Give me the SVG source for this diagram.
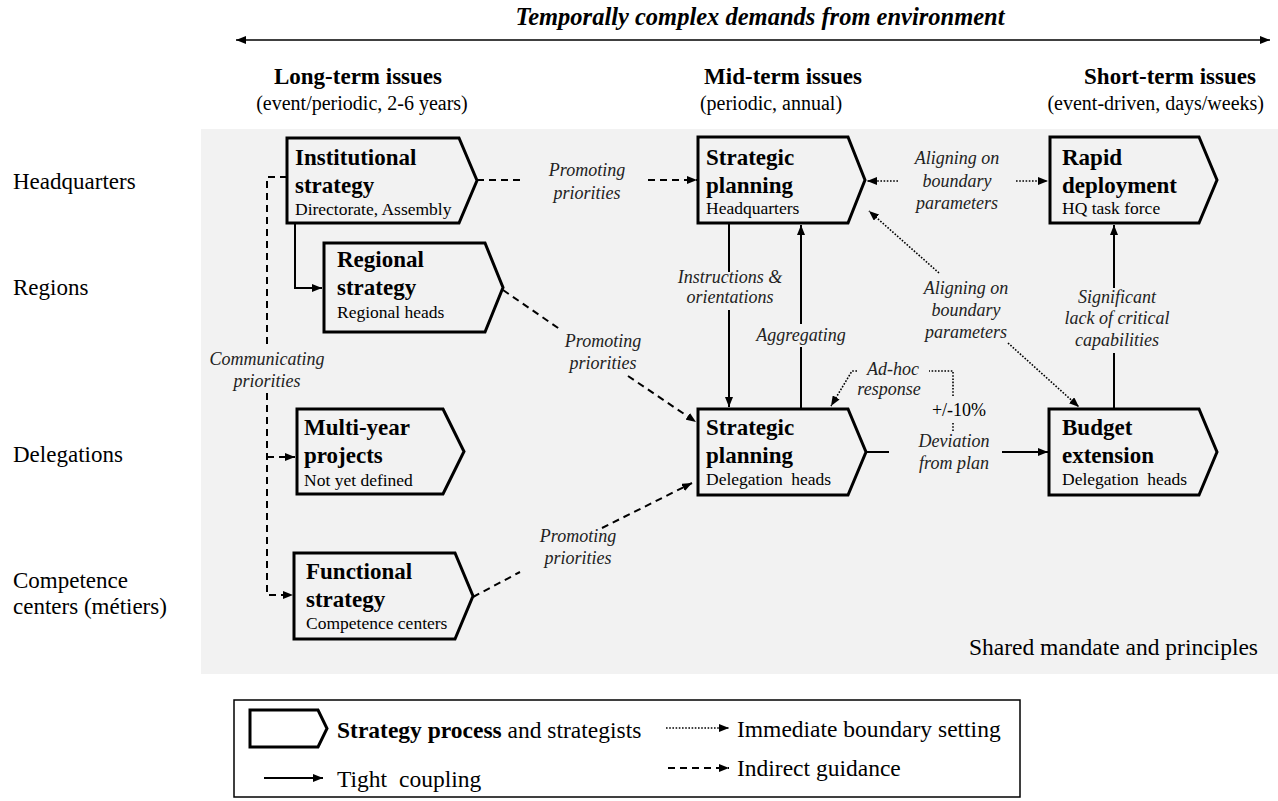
<svg xmlns="http://www.w3.org/2000/svg" width="1278" height="801" viewBox="0 0 1278 801">
<style>
  text { font-family: "Liberation Serif", "Times New Roman", serif; fill: #000; }
  .hdr { font-size: 23px; font-weight: bold; text-anchor: middle; }
  .sub { font-size: 20px; text-anchor: middle; }
  .row { font-size: 23px; }
  .nt { font-size: 23px; font-weight: bold; }
  .ns { font-size: 17.5px; }
  .lbl { font-size: 18px; font-style: italic; text-anchor: middle; fill: #222; }
  .leg { font-size: 23.5px; }
  .node polygon { fill: #f2f2f2; stroke: #000; stroke-width: 3; stroke-linejoin: miter; }
  .solid { fill: none; stroke: #000; stroke-width: 2; }
  .dash { fill: none; stroke: #000; stroke-width: 2; stroke-dasharray: 7 5; }
  .dot { fill: none; stroke: #000; stroke-width: 1.6; stroke-dasharray: 1.6 1.6; }
</style>
<defs>
  <marker id="ah" viewBox="0 0 10 8" refX="10" refY="4" markerWidth="10" markerHeight="8" markerUnits="userSpaceOnUse" orient="auto">
    <path d="M0,0 L10,4 L0,8 z" fill="#000"/>
  </marker>
  <marker id="ahs" viewBox="0 0 10 8" refX="0" refY="4" markerWidth="10" markerHeight="8" markerUnits="userSpaceOnUse" orient="auto">
    <path d="M10,0 L0,4 L10,8 z" fill="#000"/>
  </marker>
</defs>

<rect x="0" y="0" width="1278" height="801" fill="#ffffff"/>
<rect id="shared-bg" x="201" y="129" width="1077" height="545" fill="#f2f2f2"/>

<g id="header">
  <text x="760" y="25" style="font-size:24.5px;font-weight:bold;font-style:italic;text-anchor:middle">Temporally complex demands from environment</text>
  <line x1="236" y1="40" x2="1270" y2="40" stroke="#000" stroke-width="1.5" marker-start="url(#ahs)" marker-end="url(#ah)"/>
  <text class="hdr" x="358" y="84">Long-term issues</text>
  <text class="sub" x="362" y="110">(event/periodic, 2-6 years)</text>
  <text class="hdr" x="783" y="84">Mid-term issues</text>
  <text class="sub" x="771" y="110">(periodic, annual)</text>
  <text class="hdr" x="1170" y="84">Short-term issues</text>
  <text class="sub" x="1264" y="110" style="text-anchor:end">(event-driven, days/weeks)</text>
</g>

<g id="rows">
  <text class="row" x="13" y="189">Headquarters</text>
  <text class="row" x="13" y="295">Regions</text>
  <text class="row" x="13" y="462">Delegations</text>
  <text class="row" x="13" y="588">Competence</text>
  <text class="row" x="13" y="614">centers (métiers)</text>
</g>

<text x="1258" y="655" style="font-size:23.5px;text-anchor:end">Shared mandate and principles</text>

<g id="connectors">
  <!-- Institutional -> Strategic planning HQ -->
  <path class="dash" d="M477,180 H525"/>
  <path class="dash" d="M648,180 H697" marker-end="url(#ah)"/>
  <text class="lbl" x="587" y="176">Promoting</text>
  <text class="lbl" x="587" y="199">priorities</text>

  <!-- Institutional -> Regional -->
  <path class="solid" d="M295,223 V288 H322" marker-end="url(#ah)"/>

  <!-- Communicating priorities -->
  <path class="dash" d="M287,177 H267 V349"/>
  <path class="dash" d="M267,393 V595 H293" marker-end="url(#ah)"/>
  <path class="dash" d="M267,457 H295" marker-end="url(#ah)"/>
  <text class="lbl" x="267" y="365">Communicating</text>
  <text class="lbl" x="267" y="387">priorities</text>

  <!-- Regional -> Strategic planning Delegations -->
  <path class="dash" d="M503,290 L561,330"/>
  <path class="dash" d="M628,376 L696,422" marker-end="url(#ah)"/>
  <text class="lbl" x="603" y="347">Promoting</text>
  <text class="lbl" x="603" y="369">priorities</text>

  <!-- Functional -> Strategic planning Delegations -->
  <path class="dash" d="M473,597 L520,572"/>
  <path class="dash" d="M602,528 L692,483" marker-end="url(#ah)"/>
  <text class="lbl" x="578" y="542">Promoting</text>
  <text class="lbl" x="578" y="564">priorities</text>

  <!-- Instructions & orientations -->
  <path class="solid" d="M729,224 V272"/>
  <path class="solid" d="M729,310 V407" marker-end="url(#ah)"/>
  <text class="lbl" x="730" y="283">Instructions &amp;</text>
  <text class="lbl" x="730" y="303">orientations</text>

  <!-- Aggregating -->
  <path class="solid" d="M801,408 V347"/>
  <path class="solid" d="M801,324 V225" marker-end="url(#ah)"/>
  <text class="lbl" x="801" y="341">Aggregating</text>

  <!-- HQ <-> Rapid deployment (dotted) -->
  <path class="dot" d="M898,181 H867" marker-end="url(#ah)"/>
  <path class="dot" d="M1016,181 H1048" marker-end="url(#ah)"/>
  <text class="lbl" x="957" y="164">Aligning on</text>
  <text class="lbl" x="957" y="187">boundary</text>
  <text class="lbl" x="957" y="209">parameters</text>

  <!-- HQ <-> Budget extension (dotted diagonal) -->
  <path class="dot" d="M939,273 L869,211" marker-end="url(#ah)"/>
  <path class="dot" d="M1008,343 L1079,407" marker-end="url(#ah)"/>
  <text class="lbl" x="966" y="294">Aligning on</text>
  <text class="lbl" x="966" y="316">boundary</text>
  <text class="lbl" x="966" y="338">parameters</text>

  <!-- Budget extension -> Rapid deployment -->
  <path class="solid" d="M1114,408 V353"/>
  <path class="solid" d="M1114,288 V225" marker-end="url(#ah)"/>
  <text class="lbl" x="1117" y="303">Significant</text>
  <text class="lbl" x="1117" y="324">lack of critical</text>
  <text class="lbl" x="1117" y="346">capabilities</text>

  <!-- Strategic planning Del -> Budget extension -->
  <path class="solid" d="M866,452 H889"/>
  <path class="solid" d="M1002,452 H1048" marker-end="url(#ah)"/>
  <text class="lbl" x="954" y="447">Deviation</text>
  <text class="lbl" x="954" y="469">from plan</text>
  <text x="959" y="416" style="font-size:18px;text-anchor:middle">+/-10%</text>
  <path class="dot" d="M953,423 V431"/>

  <!-- Ad-hoc response -->
  <path class="dot" d="M953,396 V371 H929"/>
  <path class="dot" d="M857,371 H852 L831,406" marker-end="url(#ah)"/>
  <text class="lbl" x="893" y="375">Ad-hoc</text>
  <text class="lbl" x="889" y="395">response</text>
</g>

<g id="node-institutional" class="node">
  <polygon points="287,138 459,138 477,180.5 459,223 287,223"/>
  <text class="nt" x="295" y="165">Institutional</text>
  <text class="nt" x="295" y="193">strategy</text>
  <text class="ns" x="295" y="215">Directorate, Assembly</text>
</g>

<g id="node-regional" class="node">
  <polygon points="324,243 485,243 503,287.5 485,332 324,332"/>
  <text class="nt" x="337" y="267">Regional</text>
  <text class="nt" x="337" y="295">strategy</text>
  <text class="ns" x="337" y="318">Regional heads</text>
</g>

<g id="node-multiyear" class="node">
  <polygon points="297,409 443,409 464,451.5 443,494 297,494"/>
  <text class="nt" x="304" y="435">Multi-year</text>
  <text class="nt" x="304" y="463">projects</text>
  <text class="ns" x="304" y="486">Not yet defined</text>
</g>

<g id="node-functional" class="node">
  <polygon points="294,553 455,553 473,596 455,639 294,639"/>
  <text class="nt" x="306" y="579">Functional</text>
  <text class="nt" x="306" y="607">strategy</text>
  <text class="ns" x="306" y="629">Competence centers</text>
</g>

<g id="node-sp-hq" class="node">
  <polygon points="698,137 848,137 865,180 848,223 698,223"/>
  <text class="nt" x="706" y="165">Strategic</text>
  <text class="nt" x="706" y="193">planning</text>
  <text class="ns" x="706" y="214">Headquarters</text>
</g>

<g id="node-sp-del" class="node">
  <polygon points="698,409 848,409 866,452 848,495 698,495"/>
  <text class="nt" x="706" y="435">Strategic</text>
  <text class="nt" x="706" y="463">planning</text>
  <text class="ns" x="706" y="485" style="word-spacing:4px">Delegation heads</text>
</g>

<g id="node-rapid" class="node">
  <polygon points="1050,137 1199,137 1217,180 1199,223 1050,223"/>
  <text class="nt" x="1062" y="165">Rapid</text>
  <text class="nt" x="1062" y="193">deployment</text>
  <text class="ns" x="1062" y="214">HQ task force</text>
</g>

<g id="node-budget" class="node">
  <polygon points="1049,409 1199,409 1217,452 1199,495 1049,495"/>
  <text class="nt" x="1062" y="435">Budget</text>
  <text class="nt" x="1062" y="463">extension</text>
  <text class="ns" x="1062" y="485" style="word-spacing:4px">Delegation heads</text>
</g>

<g id="legend">
  <rect x="234" y="700" width="786" height="97" fill="#fff" stroke="#000" stroke-width="1.5"/>
  <polygon points="250,710 318,710 327,728.5 318,747 250,747" fill="#fff" stroke="#000" stroke-width="3"/>
  <text class="leg" x="337" y="738"><tspan font-weight="bold">Strategy process</tspan> and strategists</text>
  <path class="solid" d="M264,778 H323" marker-end="url(#ah)"/>
  <text class="leg" x="337" y="787" style="word-spacing:6px">Tight coupling</text>
  <path class="dot" d="M666,728 H729" marker-end="url(#ah)"/>
  <text class="leg" x="737" y="737">Immediate boundary setting</text>
  <path class="dash" d="M668,768 H729" marker-end="url(#ah)"/>
  <text class="leg" x="737" y="776">Indirect guidance</text>
</g>
</svg>
